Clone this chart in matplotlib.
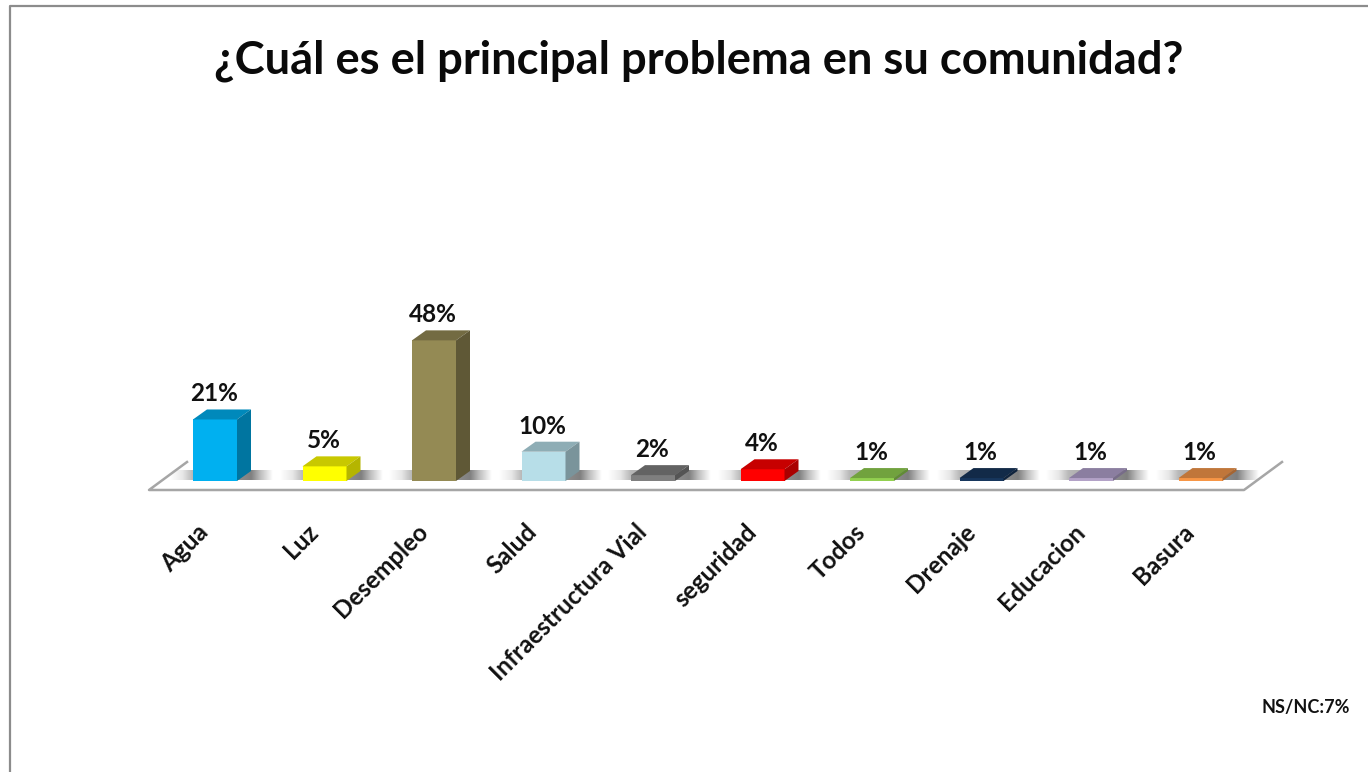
#!/usr/bin/env python3
import numpy as np
import matplotlib
matplotlib.use("Agg")
import matplotlib.pyplot as plt
from matplotlib.colors import LinearSegmentedColormap
from matplotlib.lines import Line2D
from matplotlib.patches import Polygon

categories = ["Agua", "Luz", "Desempleo", "Salud", "Infraestructura Vial",
              "seguridad", "Todos", "Drenaje", "Educacion", "Basura"]
values = [21, 5, 48, 10, 2, 4, 1, 1, 1, 1]
front_colors = ["#00B0F0", "#FFFF00", "#948A54", "#B7DEE8", "#7F7F7F",
                "#FF0000", "#92D050", "#17365D", "#B3A2C7", "#F79646"]
top_colors = ["#0089BB", "#C8C800", "#736B42", "#8EADB5", "#636363",
              "#C70000", "#71A23E", "#122A48", "#8B7EA0", "#C0763A"]
side_colors = ["#0075A0", "#B5B500", "#5F5836", "#7A949B", "#545454",
               "#AA0000", "#618C35", "#0F233D", "#776C89", "#A66532"]

W, H = 1368, 772
PX_X = 109.5   # px per category
PX_Y = 2.93    # px per percent
X0, Y0 = 215, 481  # pixel position of first category on the baseline
BAR_W = 44 / PX_X
DX, DY = 14 / PX_X, 10 / PX_Y  # 3d depth

plt.rcParams["font.family"] = ["Lato", "DejaVu Sans"]
fig = plt.figure(figsize=(W / 100, H / 100), dpi=100, facecolor="white")
ax = fig.add_axes([0, 0, 1, 1])


def px(x, y):
    # pixel (top-left origin) to data units, for the furniture
    return (x - X0) / PX_X, (Y0 - y) / PX_Y


shadow = LinearSegmentedColormap.from_list(
    "shadow", [(0, "#FFFFFF"), (0.12, "#E8E8E8"), (0.22, "#B8B8B8"),
               (0.79, "#808080"), (0.88, "#BEBEBE"), (1, "#FFFFFF")])
grad = np.linspace(0, 1, 256)[None, :]

# floor
floor = Polygon([px(149, 490), px(1244, 490), px(1282, 462), px(187, 462)],
                facecolor="white", edgecolor="none", zorder=1)
ax.add_patch(floor)
for i in range(len(categories)):
    ax.imshow(grad, cmap=shadow, vmin=0, vmax=1, aspect="auto", zorder=2,
              extent=[i - 45 / PX_X, i + 58 / PX_X, 1 / PX_Y, 11 / PX_Y],
              interpolation="bilinear")
ax.add_line(Line2D(*zip(px(187, 462), px(149, 490), px(1244, 490), px(1282, 462)),
                   color="#A6A6A6", lw=1.8, zorder=3))

# bars
xs = np.arange(len(categories))
ax.bar(xs, values, width=BAR_W, color=front_colors, zorder=5)
for i, v in enumerate(values):
    l, r = i - BAR_W / 2, i + BAR_W / 2
    ax.add_patch(Polygon([(l, v), (r, v), (r + DX, v + DY), (l + DX, v + DY)],
                         facecolor=top_colors[i], edgecolor="none", zorder=5))
    ax.add_patch(Polygon([(r, 0), (r + DX, DY), (r + DX, v + DY), (r, v)],
                         facecolor=side_colors[i], edgecolor="none", zorder=5))
    ax.text(i - 1 / PX_X, v + DY + 8 / PX_Y, f"{v}%", ha="center", va="baseline",
            fontsize=17.5, fontweight="bold", color="#111111", zorder=6)
    lx, ly = px(X0 + i * PX_X - 10, 528)
    ax.text(lx, ly, categories[i], rotation=45, rotation_mode="anchor",
            ha="right", va="center", fontsize=17.5, fontweight="bold", color="#111111")

ax.set_xlim(-X0 / PX_X, (W - X0) / PX_X)
ax.set_ylim(-(H - Y0) / PX_Y, Y0 / PX_Y)
ax.axis("off")

fig.text(699 / W, 1 - 73 / H, "¿Cuál es el principal problema en su comunidad?",
         ha="center", va="baseline", fontsize=32.7, fontweight="bold", color="#0A0A0A")
fig.text(1305.5 / W, 1 - 708 / H, "NS/NC:7%", ha="center", va="center",
         fontsize=13, fontweight="bold", color="#111111")

# outer frame, only left and top are inside the crop
fig.add_artist(Line2D([9.5 / W, 9.5 / W, 1], [0, 1 - 6 / H, 1 - 6 / H],
                      color="#8C8C8C", lw=1.6, transform=fig.transFigure))

fig.savefig("out.png", dpi=100, facecolor="white")
